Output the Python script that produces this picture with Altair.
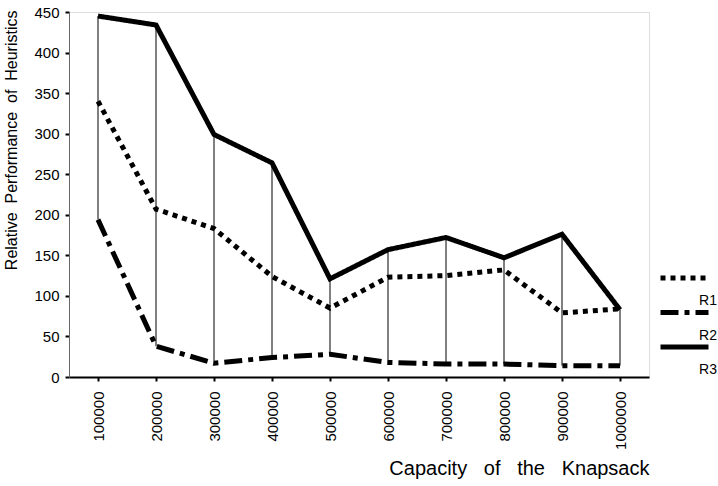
import altair as alt
import pandas as pd

caps = ["100000", "200000", "300000", "400000", "500000",
        "600000", "700000", "800000", "900000", "1000000"]
r1 = [340, 207, 183, 124, 85, 123, 125, 132, 79, 84]
r2 = [194, 38, 17, 24, 28, 18, 16, 16, 14, 14]
r3 = [445, 434, 299, 264, 121, 157, 172, 147, 176, 83]
series = ["R1", "R2", "R3"]

FONT = "Liberation Sans"
NB = "\u00a0"

long_rows = []
for name, vals in zip(series, [r1, r2, r3]):
    for c, v in zip(caps, vals):
        long_rows.append({"cap": c, "value": v, "series": name})
long_df = pd.DataFrame(long_rows)
wide_df = pd.DataFrame({"cap": caps, "hi": r3, "lo": r2})

x_enc = alt.X(
    "cap:N", sort=caps,
    scale=alt.Scale(type="point", padding=0.5),
    title=f"Capacity{NB*3}of{NB*3}the{NB*3}Knapsack",
    axis=alt.Axis(
        labelAngle=270, labelFontSize=15, labelFont=FONT, labelColor="black",
        labelPadding=10,
        domainColor="black", domainWidth=2, tickColor="black", tickWidth=2, tickSize=4,
        titleFont=FONT, titleFontSize=20, titleFontWeight="normal", titleColor="black",
        titleAlign="right", titleBaseline="alphabetic", titleX=580, titleY=97,
        grid=False,
    ),
)

y_title = f"Relative{NB*2}Performance{NB*2}of{NB*2}Heuristics"

rules = alt.Chart(wide_df).mark_rule(color="black", strokeWidth=1).encode(
    x=x_enc,
    y=alt.Y("hi:Q"),
    y2="lo:Q",
)

lines = alt.Chart(long_df).mark_line(color="black", strokeWidth=5, strokeCap="butt").encode(
    x=x_enc,
    y=alt.Y(
        "value:Q",
        scale=alt.Scale(domain=[0, 450], nice=False),
        title=y_title,
        axis=alt.Axis(
            values=list(range(0, 451, 50)), labelFontSize=15, labelFont=FONT,
            labelColor="black", labelPadding=6,
            domainColor="#666", domainWidth=1, tickColor="black", tickWidth=2, tickSize=4,
            titleFont=FONT, titleFontSize=16, titleFontWeight="normal", titleColor="black",
            titleAngle=270, titleAlign="right", titleBaseline="alphabetic",
            titleX=-53, titleY=-2, grid=False,
        ),
    ),
    strokeDash=alt.StrokeDash(
        "series:N",
        scale=alt.Scale(domain=series, range=[[5, 5], [18, 6, 5, 6], [1, 0]]),
        legend=alt.Legend(
            orient="none", legendX=589, legendY=263, title=None,
            symbolType="stroke", symbolSize=2304, symbolStrokeWidth=5,
            symbolStrokeColor="black", clipHeight=6,
            labelOffset=6, labelAlign="right", labelBaseline="top",
            labelExpr="['', datum.label]",
            labelFontSize=14, labelFont=FONT, labelColor="black",
            padding=0, rowPadding=1.5,
        ),
    ),
    detail="series:N",
)

chart = alt.layer(rules, lines).properties(
    width=580, height=365,
    padding={"left": 69, "top": 12, "right": 69, "bottom": 109},
    autosize="none",
).configure_view(stroke="#777", strokeWidth=1).configure(background="white")

chart.save("out.html", embed_options={"renderer": "svg", "actions": False})
